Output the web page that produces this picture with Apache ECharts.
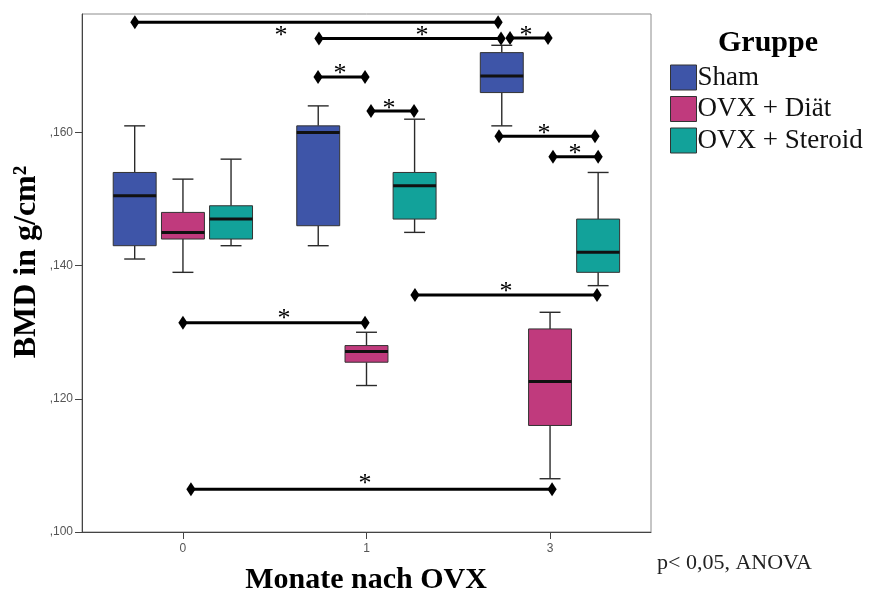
<!DOCTYPE html>
<html>
<head>
<meta charset="utf-8">
<script src="https://cdn.jsdelivr.net/npm/echarts@6/dist/echarts.min.js"></script>
<style>
  html, body { margin: 0; padding: 0; background: #ffffff; }
  #chart { width: 870px; height: 593px; }
</style>
</head>
<body>
<div id="chart"></div>
<script>
// Months after OVX (x categories) and treatment groups
const categories = ['0', '1', '3'];
const groups = ['Sham', 'OVX + Diät', 'OVX + Steroid'];

// Box summaries per month: [min, Q1, median, Q3, max] in g/cm²
const sham = [
  [0.141, 0.143, 0.1505, 0.154, 0.161],
  [0.143, 0.146, 0.160, 0.161, 0.164],
  [0.161, 0.166, 0.1685, 0.172, 0.1731]
];
const diaet = [
  [0.139, 0.144, 0.145, 0.148, 0.153],
  [0.122, 0.1255, 0.1271, 0.128, 0.130],
  [0.108, 0.116, 0.1226, 0.1305, 0.133]
];
const steroid = [
  [0.143, 0.144, 0.147, 0.149, 0.156],
  [0.145, 0.147, 0.152, 0.154, 0.162],
  [0.137, 0.139, 0.142, 0.147, 0.154]
];

const yTicks = [0.10, 0.12, 0.14, 0.16];

// Significance brackets (x in month-slot units, y in g/cm²):
// [from, to, level, asterisk x, asterisk level]
const sigBars = [
  [-0.262, 1.717, 0.17655, 0.534, 0.17505],
  [0.741, 1.733, 0.17411, 1.302, 0.17505],
  [1.782, 1.989, 0.17420, 1.869, 0.17505],
  [0.736, 0.992, 0.16835, 0.856, 0.16935],
  [1.0245, 1.259, 0.16325, 1.123, 0.16410],
  [1.722, 2.245, 0.15945, 1.967, 0.16035],
  [2.016, 2.262, 0.15635, 2.136, 0.15735],
  [1.264, 2.256, 0.13560, 1.760, 0.13665],
  [0.000, 0.992, 0.13144, 0.550, 0.13260],
  [0.0436, 2.011, 0.10642, 0.992, 0.10785]
];

const colors = ['#3e55a8', '#c03a7d', '#12a29a'];
const SERIF = '"Liberation Serif", "Times New Roman", serif';
const SANS = '"Liberation Sans", Arial, sans-serif';

// slot offsets of the three boxes inside one month
const DODGE = [-0.263, 0, 0.262];
const BOX_HALF = 0.117;
const CAP_HALF = 0.057;

function boxData(summary, gi) {
  return summary.map((s, ci) => [ci + DODGE[gi]].concat(s));
}

function renderBox(params, api) {
  const x = api.value(0);
  const lo = api.coord([x, api.value(1)]);
  const q1 = api.coord([x, api.value(2)]);
  const md = api.coord([x, api.value(3)]);
  const q3 = api.coord([x, api.value(4)]);
  const hi = api.coord([x, api.value(5)]);
  const hw = api.coord([x + BOX_HALF, 0.1])[0] - api.coord([x, 0.1])[0];
  const cw = api.coord([x + CAP_HALF, 0.1])[0] - api.coord([x, 0.1])[0];
  const cx = lo[0];
  const fill = api.visual('color');
  const wStyle = { stroke: '#2a2a2a', lineWidth: 1.4 };
  return {
    type: 'group',
    children: [
      { type: 'line', shape: { x1: cx, y1: hi[1], x2: cx, y2: q3[1] }, style: wStyle },
      { type: 'line', shape: { x1: cx, y1: q1[1], x2: cx, y2: lo[1] }, style: wStyle },
      { type: 'line', shape: { x1: cx - cw, y1: hi[1], x2: cx + cw, y2: hi[1] }, style: wStyle },
      { type: 'line', shape: { x1: cx - cw, y1: lo[1], x2: cx + cw, y2: lo[1] }, style: wStyle },
      { type: 'rect', shape: { x: cx - hw, y: q3[1], width: 2 * hw, height: q1[1] - q3[1] },
        style: { fill: fill, stroke: '#333333', lineWidth: 1 } },
      { type: 'line', shape: { x1: cx - hw, y1: md[1], x2: cx + hw, y2: md[1] },
        style: { stroke: '#111111', lineWidth: 3 } }
    ]
  };
}

function diamond(p) {
  return {
    type: 'polygon',
    shape: { points: [[p[0], p[1] - 7], [p[0] + 4.6, p[1]], [p[0], p[1] + 7], [p[0] - 4.6, p[1]]] },
    style: { fill: '#000000' }
  };
}

function renderSig(params, api) {
  const a = api.coord([api.value(0), api.value(2)]);
  const b = api.coord([api.value(1), api.value(2)]);
  const s = api.coord([api.value(3), api.value(4)]);
  return {
    type: 'group',
    children: [
      { type: 'line', shape: { x1: a[0], y1: a[1], x2: b[0], y2: b[1] },
        style: { stroke: '#000000', lineWidth: 3 } },
      diamond(a),
      diamond(b),
      { type: 'text', x: s[0], y: s[1] + 4,
        style: { text: '*', fill: '#000000', font: '26px ' + SERIF, align: 'center', verticalAlign: 'middle' } }
    ]
  };
}

const summaries = [sham, diaet, steroid];
const series = groups.map((name, gi) => ({
  name: name,
  type: 'custom',
  renderItem: renderBox,
  itemStyle: { color: colors[gi], borderColor: '#333333', borderWidth: 1 },
  encode: { x: 0, y: [1, 2, 3, 4, 5] },
  data: boxData(summaries[gi], gi),
  silent: true,
  z: 2
}));
series.push({
  name: 'sig',
  type: 'custom',
  renderItem: renderSig,
  encode: { x: [0, 1, 3], y: [2, 4] },
  data: sigBars,
  silent: true,
  z: 5
});

const chart = echarts.init(document.getElementById('chart'), null, { renderer: 'canvas' });
chart.setOption({
  animation: false,
  backgroundColor: '#ffffff',
  grid: {
    left: 82, top: 14, right: 219, bottom: 61,
    show: true, borderColor: '#8c8c8c', borderWidth: 1, backgroundColor: 'transparent'
  },
  xAxis: {
    type: 'value',
    min: -0.55, max: 2.55,
    axisLine: { show: true, onZero: false, lineStyle: { color: '#444444', width: 1 } },
    axisTick: { show: true, length: 7, customValues: [0, 1, 2], lineStyle: { color: '#444444' } },
    axisLabel: {
      customValues: [0, 1, 2], margin: 11,
      formatter: v => categories[Math.round(v)],
      color: '#555555', fontFamily: SANS, fontSize: 12
    },
    splitLine: { show: false }
  },
  yAxis: {
    type: 'value',
    min: 0.1, max: 0.1778,
    axisLine: { show: true, onZero: false, lineStyle: { color: '#444444', width: 1 } },
    axisTick: { show: true, length: 7, customValues: yTicks, lineStyle: { color: '#444444' } },
    axisLabel: {
      customValues: yTicks, margin: 9,
      formatter: v => ',' + v.toFixed(3).split('.')[1],
      color: '#555555', fontFamily: SANS, fontSize: 12
    },
    splitLine: { show: false }
  },
  legend: {
    data: groups,
    orient: 'vertical',
    left: 665, top: 59,
    icon: 'rect',
    itemWidth: 26, itemHeight: 25, itemGap: 4.5,
    itemStyle: { borderColor: '#333333', borderWidth: 1 },
    textStyle: { fontFamily: SERIF, fontSize: 27, color: '#111111', padding: [0, 0, 0, -4] },
    selectedMode: false
  },
  graphic: [
    { type: 'text', x: 768, y: 43,
      style: { text: 'Gruppe', font: 'bold 30px ' + SERIF, fill: '#000000', align: 'center', verticalAlign: 'middle' } },
    { type: 'text', x: 27, y: 262, rotation: Math.PI / 2,
      style: { text: 'BMD in g/cm²', font: 'bold 32px ' + SERIF, fill: '#000000', align: 'center', verticalAlign: 'middle' } },
    { type: 'text', x: 366, y: 580,
      style: { text: 'Monate nach OVX', font: 'bold 30px ' + SERIF, fill: '#000000', align: 'center', verticalAlign: 'middle' } },
    { type: 'text', x: 657, y: 563,
      style: { text: 'p< 0,05, ANOVA', font: '22px ' + SERIF, fill: '#222222', align: 'left', verticalAlign: 'middle' } }
  ],
  series: series
});
</script>
</body>
</html>
